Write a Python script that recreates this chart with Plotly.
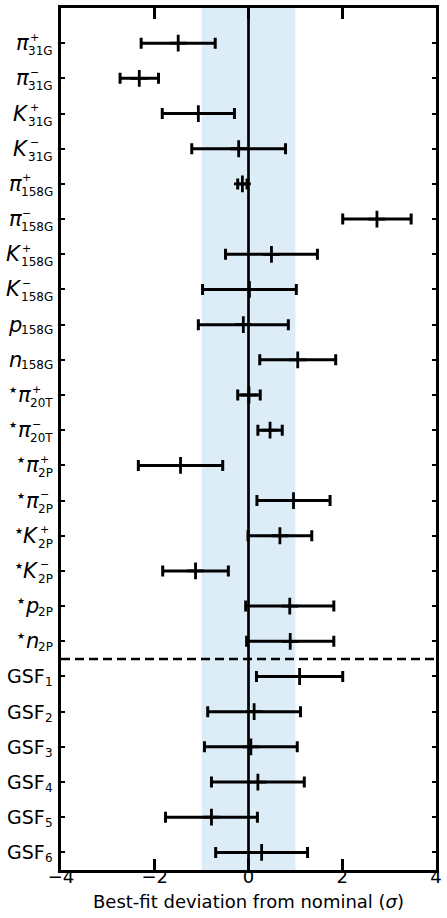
import plotly.graph_objects as go

# Nuisance parameters, top to bottom: (base symbol, charge, subscript)
param_base = ["π", "π", "K", "K", "π", "π", "K", "K", "p", "n",
              "★π", "★π", "★π", "★π", "★K", "★K", "★p", "★n",
              "GSF", "GSF", "GSF", "GSF", "GSF", "GSF"]
param_charge = ["+", "−", "+", "−", "+", "−", "+", "−", "", "",
                "+", "−", "+", "−", "+", "−", "", "",
                "", "", "", "", "", ""]
param_sub = ["31G", "31G", "31G", "31G", "158G", "158G", "158G", "158G", "158G", "158G",
             "20T", "20T", "2P", "2P", "2P", "2P", "2P", "2P",
             "1", "2", "3", "4", "5", "6"]

# Best-fit pull and its 1-sigma uncertainty
best_fit = [-1.50, -2.33, -1.07, -0.21, -0.13, 2.74, 0.49, 0.02, -0.11, 1.05,
            0.01, 0.46, -1.45, 0.96, 0.67, -1.13, 0.88, 0.89,
            1.09, 0.12, 0.05, 0.20, -0.79, 0.28]
uncert = [0.79, 0.41, 0.77, 1.00, 0.10, 0.73, 0.98, 1.00, 0.96, 0.81,
          0.24, 0.26, 0.90, 0.78, 0.68, 0.70, 0.94, 0.93,
          0.92, 0.99, 0.99, 0.99, 0.98, 0.98]

x_ticks = [-4, -2, 0, 2, 4]
x_title = "Best-fit deviation from nominal (<i>σ</i>)"
n_group1 = 18  # rows above the dashed separator

rows = list(range(len(best_fit)))
FONT = "DejaVu Sans"

fig = go.Figure()

# +-1 sigma band and the zero line
fig.add_shape(type="rect", x0=-1, x1=1, y0=0, y1=1, xref="x", yref="paper",
              fillcolor="rgb(221,237,248)", line_width=0, layer="below")
fig.add_shape(type="line", x0=0, x1=0, y0=0, y1=1, xref="x", yref="paper",
              line=dict(color="black", width=2.7), layer="below")
# separator between hadron-production and GSF parameters
fig.add_shape(type="line", x0=0, x1=1, xref="paper", yref="y",
              y0=n_group1 - 0.5, y1=n_group1 - 0.5,
              line=dict(color="black", width=2.5, dash="9px,5px"))

fig.add_trace(go.Scatter(
    x=best_fit, y=rows, mode="markers",
    marker=dict(symbol="cross-thin", size=12, color="black",
                line=dict(color="black", width=2.8)),
    error_x=dict(type="data", array=uncert, symmetric=True,
                 color="black", thickness=3, width=5.5),
    showlegend=False, hoverinfo="skip"))

# Row labels with stacked charge superscript and subscript
char_w = {"0": .636, "1": .636, "2": .636, "3": .636, "4": .636, "5": .636,
          "6": .636, "7": .636, "8": .636, "9": .636, "G": .775, "T": .611, "P": .603}
SUB_SIZE = 12
annotations = []
for i, (base, chg, sub) in enumerate(zip(param_base, param_charge, param_sub)):
    w = sum(char_w[c] for c in sub) * SUB_SIZE
    right = -7
    is_gsf = base == "GSF"
    sub_shift = -6 if is_gsf else (-8 if chg else -5.5)
    annotations.append(dict(text=sub, xref="paper", x=0, xanchor="right", xshift=right,
                            yref="y", y=i, yanchor="middle", yshift=sub_shift,
                            showarrow=False, borderpad=0,
                            font=dict(family=FONT, size=SUB_SIZE, color="black")))
    if chg:
        annotations.append(dict(text=chg, xref="paper", x=0, xanchor="left",
                                xshift=right - w - 0.5,
                                yref="y", y=i, yanchor="middle", yshift=6,
                                showarrow=False, borderpad=0,
                                font=dict(family=FONT, size=11, color="black")))
    if is_gsf:
        txt, size, ov, ys = base, 19, 0, 0
    else:
        sym = base.replace("★", "")
        txt = "<i>" + sym + "</i>"
        size, ov, ys = 21, 1, 0
    annotations.append(dict(text=txt, xref="paper", x=0, xanchor="right",
                            xshift=right - w + ov,
                            yref="y", y=i, yanchor="middle", yshift=ys,
                            showarrow=False, borderpad=0,
                            font=dict(family=FONT, size=size, color="black")))
    if base.startswith("★"):
        # small raised star in front of the symbol
        sym_w = {"π": 0.62, "K": 0.72, "p": 0.64, "n": 0.64}[base[1]] * size
        annotations.append(dict(text="★", xref="paper", x=0, xanchor="right",
                                xshift=right - w + ov - sym_w - 1,
                                yref="y", y=i, yanchor="middle", yshift=5,
                                showarrow=False, borderpad=0,
                                font=dict(family=FONT, size=9, color="black")))

# x-axis title, set just below the tick labels
annotations.append(dict(text=x_title, xref="paper", x=0.5, xanchor="center",
                        yref="paper", y=0, yanchor="middle", yshift=-31,
                        showarrow=False, borderpad=0,
                        font=dict(family=FONT, size=18, color="black")))

fig.update_layout(
    width=447, height=918,
    margin=dict(l=61, r=5, t=8, b=48),
    plot_bgcolor="white", paper_bgcolor="white",
    font=dict(family=FONT, size=18, color="black"),
    annotations=annotations,
    xaxis=dict(range=[-4, 4], tickvals=x_ticks, ticks="inside", ticklen=11,
               tickwidth=2.5, tickcolor="black", showline=True, linewidth=3,
               linecolor="black", mirror="ticks", showgrid=False, zeroline=False,
               tickfont=dict(family=FONT, size=18), ticklabelstandoff=-12),
    yaxis=dict(range=[len(rows) - 0.5, -1], tickvals=rows, ticks="inside", ticklen=4,
               tickwidth=2, tickcolor="black", showticklabels=False,
               showline=True, linewidth=3, linecolor="black", mirror="ticks",
               showgrid=False, zeroline=False),
)

fig.write_html("out.html")
